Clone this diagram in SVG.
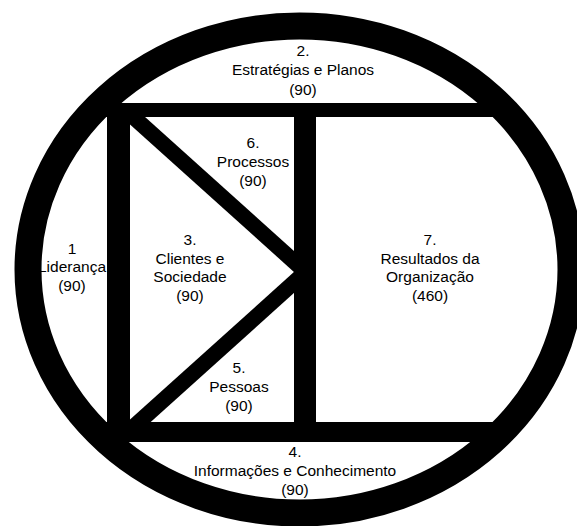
<svg xmlns="http://www.w3.org/2000/svg" width="577" height="526" viewBox="0 0 577 526">
  <style>
    .bar { fill: #000; }
    .ring { fill: none; stroke: #000; stroke-width: 27; }
    .lbl { font-family: "Liberation Sans", Arial, sans-serif; font-size: 15.5px; fill: #000; text-anchor: middle; }
  </style>
  <rect width="577" height="526" fill="#fff"/>
  <g id="frame">
    <polygon class="bar" points="125,110 137.3,110 300,256.4 300,277.4 125,119.9"/>
    <polygon class="bar" points="300,266.6 300,287.6 139.6,432 125,432 125,424.1"/>
    <rect class="bar" x="100" y="103" width="397" height="14"/>
    <rect class="bar" x="100" y="422" width="400" height="20"/>
    <rect class="bar" x="107" y="103" width="23" height="339"/>
    <rect class="bar" x="294" y="110" width="22" height="320"/>
    <ellipse class="ring" cx="299.5" cy="269.5" rx="271.5" ry="243.5"/>
  </g>
  <g id="n2">
    <text class="lbl" x="303" y="55.5">2.</text>
    <text class="lbl" x="303" y="75">Estratégias e Planos</text>
    <text class="lbl" x="303" y="94.5">(90)</text>
  </g>
  <g id="n6">
    <text class="lbl" x="253" y="148.3">6.</text>
    <text class="lbl" x="253" y="166.9">Processos</text>
    <text class="lbl" x="253" y="185.5">(90)</text>
  </g>
  <g id="n1">
    <text class="lbl" x="72" y="253.5">1</text>
    <text class="lbl" x="72" y="272.1">Liderança</text>
    <text class="lbl" x="72" y="290.7">(90)</text>
  </g>
  <g id="n3">
    <text class="lbl" x="190" y="245">3.</text>
    <text class="lbl" x="190" y="263.5">Clientes e</text>
    <text class="lbl" x="190" y="282">Sociedade</text>
    <text class="lbl" x="190" y="300.5">(90)</text>
  </g>
  <g id="n7">
    <text class="lbl" x="430" y="245">7.</text>
    <text class="lbl" x="430" y="263.5">Resultados da</text>
    <text class="lbl" x="430" y="282">Organização</text>
    <text class="lbl" x="430" y="300.5">(460)</text>
  </g>
  <g id="n5">
    <text class="lbl" x="239" y="373.3">5.</text>
    <text class="lbl" x="239" y="391.9">Pessoas</text>
    <text class="lbl" x="239" y="410.5">(90)</text>
  </g>
  <g id="n4">
    <text class="lbl" x="295" y="457">4.</text>
    <text class="lbl" x="295" y="475.8">Informações e Conhecimento</text>
    <text class="lbl" x="295" y="494.6">(90)</text>
  </g>
</svg>
